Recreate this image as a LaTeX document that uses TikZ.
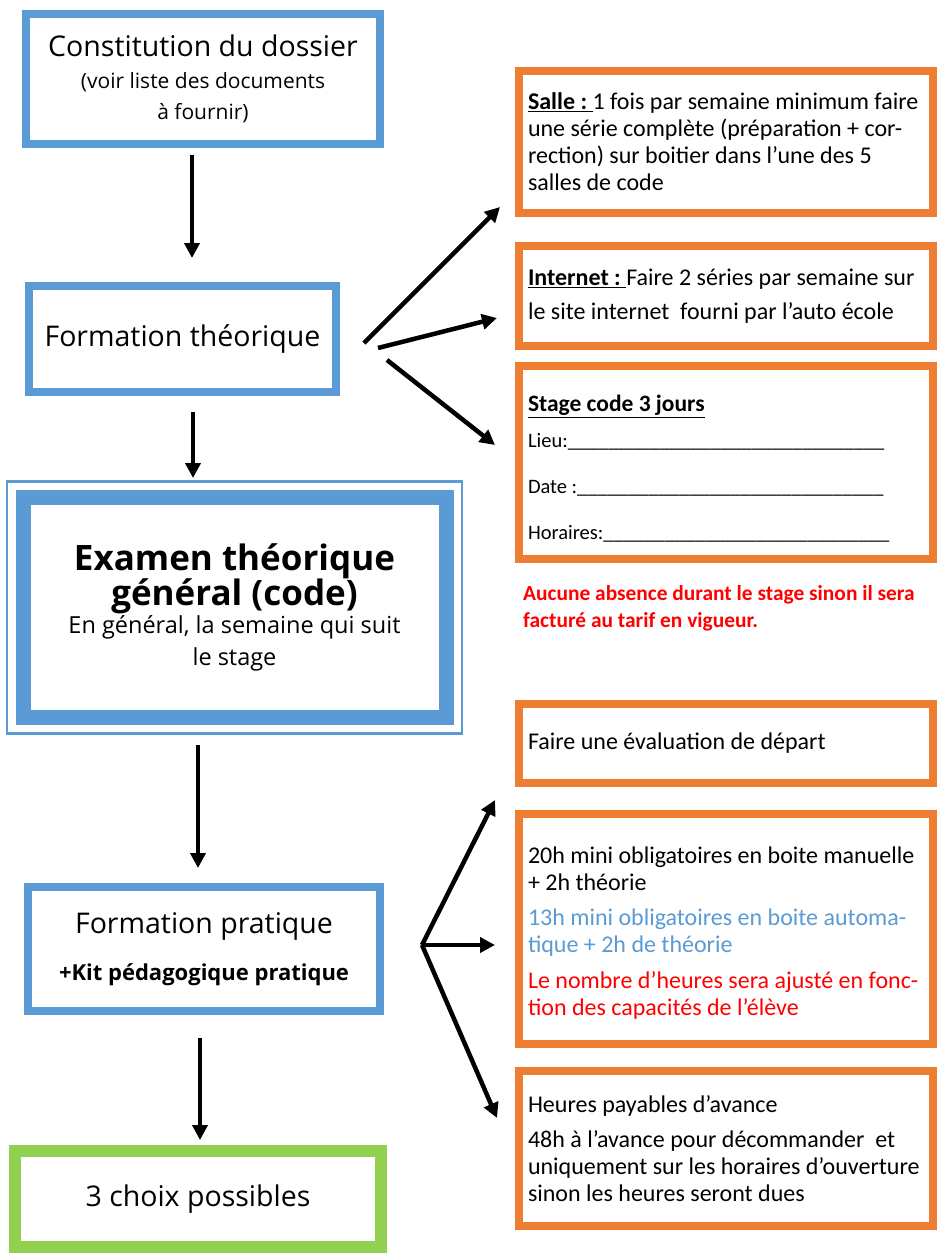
\documentclass[tikz,border=0pt]{standalone}
\usepackage{fontspec}
\setmainfont{Carlito}
\newfontfamily\comic{Open Sans}
\usetikzlibrary{arrows.meta}
\definecolor{cblue}{HTML}{5B9BD5}
\definecolor{corange}{HTML}{ED7D31}
\definecolor{cgreen}{HTML}{92D050}
\definecolor{cred}{HTML}{FF0000}
\newcommand{\blanks}[1]{\foreach \k in {1,...,#1}{\_}}

\begin{document}
\begin{tikzpicture}[x=1pt,y=-1pt,>={Triangle[length=15pt,width=15pt]},
  main node/.style={draw=cblue,line width=8pt,inner sep=0pt,align=center,
    font=\comic\fontsize{28.5}{34}\selectfont},
  info node/.style={draw=corange,line width=8pt,inner sep=0pt,minimum width=414pt,
    text width=396pt,align=flush left,font=\fontsize{24}{27}\selectfont},
  end node/.style={draw=cgreen,line width=12pt,inner sep=0pt,align=center,
    font=\comic\fontsize{28.5}{34}\selectfont},
  link/.style={->,line width=4.5pt}]
  \useasboundingbox[fill=white] (0,0) rectangle (937,1253);

  % left column
  \node[main node,minimum width=354pt,minimum height=130pt] (dossier) at (203,79)
    {Constitution du dossier\\[-2pt]
     {\fontsize{21}{31}\selectfont (voir liste des documents}\\[-3pt]
     {\fontsize{21}{31}\selectfont à fournir)}};
  \node[main node,minimum width=307pt,minimum height=106pt] (theo) at (182.5,339)
    {Formation théorique};
  \node[main node,line width=15pt,minimum width=423pt,minimum height=220pt] (exam) at (234.5,607.5)
    {{\bfseries\fontsize{35}{38}\selectfont Examen théorique}\\[-2pt]
     {\bfseries\fontsize{35}{38}\selectfont général (code)}\\[-6pt]
     {\fontsize{23.5}{31}\selectfont En général, la semaine qui suit}\\[-2pt]
     {\fontsize{23.5}{31}\selectfont le stage}};
  \node[draw=cblue,line width=2.5pt,inner sep=0pt,minimum width=455pt,minimum height=252pt]
    (examframe) at (exam.center) {};
  \node[main node,minimum width=352pt,minimum height=124pt] (pratique) at (204,949)
    {Formation pratique\\[13pt]
     {\bfseries\fontsize{22}{30}\selectfont +Kit pédagogique pratique}};
  \node[end node,minimum width=366pt,minimum height=96pt] (choix) at (198,1199)
    {3 choix possibles};

  % right column
  \node[info node,minimum height=142pt] (salle) at (726,142)
    {\underline{\textbf{Salle :}\ }1 fois par semaine minimum faire\\
     une série complète (préparation + cor-\\
     rection) sur boitier dans l’une des 5\\
     salles de code};
  \node[info node,minimum height=100pt] (internet) at (726,296)
    {\underline{\textbf{Internet :}\ }Faire 2 séries par semaine sur\\[7pt]
     le site internet\ \ fourni par l’auto école};
  \node[info node,minimum height=193pt,font=\fontsize{20.5}{25}\selectfont] (stage) at (726,462.5)
    {\rule{0pt}{29pt}{\fontsize{23.5}{25}\selectfont\textbf{\underline{Stage code 3 jours}}}\\[11pt]
     Lieu:\blanks{31}\\[21pt]
     Date :\blanks{30}\\[21pt]
     Horaires:\blanks{28}};
  \node[anchor=west,align=flush left,text=cred,inner sep=0pt,font=\bfseries\fontsize{21.4}{27}\selectfont]
    (note) at (523,608.5)
    {Aucune absence durant le stage sinon il sera\\ facturé au tarif en vigueur.};
  \node[info node,minimum height=79pt] (eval) at (726,743.5)
    {Faire une évaluation de départ};
  \node[info node,minimum height=230pt] (heures) at (726,929)
    {\rule{0pt}{25pt}20h mini obligatoires en boite manuelle\\
     + 2h théorie\\[8pt]
     \textcolor{cblue}{13h mini obligatoires en boite automa-}\\
     \textcolor{cblue}{tique + 2h de théorie}\\[9pt]
     \textcolor{cred}{Le nombre d’heures sera ajusté en fonc-}\\
     \textcolor{cred}{tion des capacités de l’élève}};
  \node[info node,minimum height=155pt] (avance) at (726,1148.5)
    {Heures payables d’avance\\[8pt]
     48h à l’avance pour décommander\ \ et\\
     uniquement sur les horaires d’ouverture\\
     sinon les heures seront dues};

  % arrow ends
  \coordinate (d1) at (192,155);  \coordinate (d2) at (192,258);
  \coordinate (t1) at (193,412);  \coordinate (t2) at (193,478);
  \coordinate (e1) at (198,745);  \coordinate (e2) at (198,868);
  \coordinate (p1) at (200,1038); \coordinate (p2) at (200,1140);
  \coordinate (fa) at (364,343);  \coordinate (fb) at (378,348);
  \coordinate (fc) at (387,360);
  \coordinate (ta) at (500,207);  \coordinate (tb) at (497,318);
  \coordinate (tc) at (495,445);
  \coordinate (pf) at (422,945);
  \coordinate (pa) at (495,800);  \coordinate (pb) at (495,945);
  \coordinate (pc) at (497,1118);

  \draw[link] (d1) -- (d2);
  \draw[link] (t1) -- (t2);
  \draw[link] (e1) -- (e2);
  \draw[link] (p1) -- (p2);
  \draw[link] (fa) -- (ta);
  \draw[link] (fb) -- (tb);
  \draw[link] (fc) -- (tc);
  \draw[link] (pf) -- (pa);
  \draw[link] (pf) -- (pb);
  \draw[link] (pf) -- (pc);
\end{tikzpicture}
\end{document}
